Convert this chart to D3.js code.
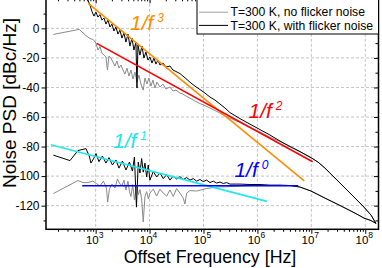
<!DOCTYPE html>
<html>
<head>
<meta charset="utf-8">
<script src="https://cdn.jsdelivr.net/npm/d3@7"></script>
<style>
  html, body { margin: 0; padding: 0; background: #fff; }
  svg { display: block; font-family: "Liberation Sans", Arial, sans-serif; }
</style>
</head>
<body>
<div id="chart"></div>
<script>
// offset frequency [Hz] / PSD [dBc/Hz]
// upper curves (1/f^3 -> 1/f^2 region)
const fUpperBlack = [496, 661, 729, 784, 854, 930, 1013, 1103, 1202, 1309, 1425, 1552, 1691, 1842, 2006, 2185, 2380, 2592, 2823, 3074, 3348, 3647, 3972, 4326, 4712, 5132, 5589, 5834, 6088, 6630, 7222, 7866, 8567, 9333, 10160, 11070, 12060, 13130, 14300, 15580, 17710, 20130, 23880, 27140, 30860, 36590, 41590, 47290, 56090, 69430, 86000, 106400, 131800, 163100, 202000, 250000, 309500, 474600, 727200, 1.115e6, 1.708e6, 2.618e6]
const psdUpperBlack = [27.3, 21.2, 18.5, 15.8, 11.4, 8.3, 11.0, 7.6, 9.3, 5.6, 7.0, 2.9, 5.6, 0.9, 2.9, -1.8, 0.9, -3.9, -1.2, -6.6, -3.2, -9.3, -3.9, -12.0, -6.6, -14.7, -9.3, -40.4, -11.3, -18.1, -12.0, -20.1, -16.0, -21.5, -19.4, -23.5, -20.1, -24.2, -21.5, -24.8, -23.5, -26.2, -25.5, -28.2, -29.2, -30.6, -32.3, -34.0, -36.4, -39.1, -41.4, -43.8, -46.5, -48.5, -51.2, -53.9, -57.0, -61.1, -64.8, -68.5, -72.2, -76.3]
const fUpperGray = [164, 496, 661, 784, 903, 1013, 1103, 1202, 1309, 1425, 1552, 1655, 1765, 1922, 2094, 2280, 2483, 2705, 2946, 3209, 3494, 3806, 4146, 4515, 4918, 5356, 5834, 6353, 6919, 7635, 8209, 8940, 9739, 10600, 11550, 12580, 13700, 15580, 17710, 20130, 23880, 27140, 30860, 36590, 41590, 47290, 56090, 69430, 86000, 106400, 131800, 163100, 202000, 250000, 309500, 474600, 727200, 1.115e6, 1.708e6, 2.618e6]
const psdUpperGray = [-4.1, -0.7, -4.9, -6.9, -7.6, -10.0, -14.7, -12.3, -16.7, -18.1, -19.4, -28.2, -18.8, -20.1, -22.8, -25.5, -22.1, -26.9, -24.8, -28.2, -30.9, -26.9, -32.3, -28.2, -34.3, -29.6, -36.4, -31.6, -37.7, -41.8, -33.6, -37.7, -33.6, -39.1, -35.0, -40.4, -36.4, -39.7, -37.7, -41.1, -39.7, -42.4, -41.8, -43.8, -44.5, -45.8, -47.2, -49.2, -50.9, -52.3, -53.9, -55.6, -57.3, -59.4, -60.7, -63.8, -67.1, -70.2, -73.6, -76.6]
// lower curves (1/f -> white floor)
const fLowerBlack = [164, 334, 470, 661, 761, 818, 930, 1013, 1151, 1337, 1552, 1765, 2049, 2380, 2705, 3141, 3647, 4236, 4814, 5243, 5710, 6166, 6630, 7130, 7635, 8209, 8828, 9452, 10160, 11700, 13530, 15580, 17940, 20740, 23880, 27500, 31780, 36590, 42130, 48730, 56090, 64590, 74680, 86000, 98970, 114400, 131800, 151700, 175400, 202000, 232500, 268800, 309500, 474600, 727200, 1.115e6, 1.708e6, 2.618e6]
const psdLowerBlack = [-85.8, -89.5, -82.7, -81.4, -86.4, -91.2, -87.8, -84.7, -90.2, -86.4, -91.2, -87.5, -92.5, -89.1, -94.6, -89.8, -95.9, -90.5, -96.6, -87.1, -121.0, -90.5, -97.9, -88.1, -97.3, -91.2, -100.6, -92.5, -102.7, -96.9, -100.6, -97.9, -101.7, -99.0, -102.7, -100.0, -102.0, -100.3, -102.3, -101.0, -102.7, -101.7, -103.4, -102.3, -103.7, -102.7, -104.4, -103.4, -104.7, -104.0, -105.0, -104.4, -105.4, -105.4, -105.7, -105.7, -106.1, -106.1]
const fLowerGray = [164, 470, 582, 720, 891, 1035, 1202, 1395, 1586, 1670, 1803, 2006, 2280, 2537, 2764, 3074, 3348, 3647, 3972, 4236, 4515, 4856, 5243, 5759, 6219, 6630, 7130, 7635, 8209, 8828, 9533, 10160, 11700, 13530, 15580, 17940, 20740, 23880, 27500, 31780, 36590, 42130, 45320, 48730, 56090, 74680, 114400, 175400, 309500, 474600, 727200, 1.115e6, 1.708e6, 2.618e6]
const psdLowerGray = [-111.8, -103.0, -104.4, -104.4, -103.4, -105.0, -106.7, -103.4, -108.1, -117.6, -108.8, -105.4, -108.1, -102.0, -104.7, -106.7, -102.7, -109.4, -103.4, -110.5, -113.8, -105.7, -116.2, -106.4, -112.5, -109.1, -115.5, -131.1, -113.8, -110.5, -115.5, -111.5, -108.8, -113.5, -108.8, -111.5, -113.5, -109.4, -113.8, -108.4, -111.5, -114.9, -118.9, -111.5, -109.8, -110.1, -108.4, -107.4, -107.1, -106.7, -106.4, -106.4, -106.4, -106.4]
// high-frequency roll-off, where both temperatures coincide
const fTail = [4.19e6, 6.15e6, 9.84e6, 1.33e7, 1.79e7, 2.41e7, 3.40e7, 4.78e7, 6.72e7, 9.46e7, 1.28e8, 1.58e8]
const psdUpperTail = [-80.3, -83.4, -87.5, -90.5, -94.6, -99.3, -104.7, -110.1, -115.5, -121.0, -126.4, -132.0]
const psdLowerTail = [-106.4, -107.4, -110.1, -112.5, -114.9, -117.2, -119.9, -122.6, -125.4, -128.4, -130.1, -132.0]

// asymptotes: 1/f^n, start/end points and label anchor
const fitPower = ['3', '2', '1', '0']
const fitF = [[729, 7.39e6], [1043, 1.058e7], [148, 1.50e6], [564, 5.72e6]]
const fitPsd = [[16.9, -103.2], [-10.2, -90.3], [-78.8, -117.1], [-106.5, -106.5]]
const fitLabelF = [4330, 6.82e5, 2094, 3.75e5]
const fitLabelPsd = [-1.15, -60.9, -80.7, -100.4]

const legendLabels = ['T=300 K, no flicker noise', 'T=300 K, with flicker noise']
const xMajor = [1e3, 1e4, 1e5, 1e6, 1e7, 1e8]
const yMajor = [-120, -100, -80, -60, -40, -20, 0]

const fitColors = ['#ff8c00', '#ff0000', '#20e6f0', '#0000ff']
const grayColor = '#8a8a8a'

const width = 382, height = 268
const mLeft = 46, mRight = 378.5, mTop = -1.2, mBottom = 229.3

const x = d3.scaleLog().domain([120, 1.76e8]).range([mLeft, mRight])
const y = d3.scaleLinear().domain([-136, 20]).range([mBottom, mTop])

const svg = d3.select('#chart').append('svg').attr('width', width).attr('height', height)
svg.append('rect').attr('width', width).attr('height', height).attr('fill', '#fff')

svg.append('defs').append('clipPath').attr('id', 'plot')
  .append('rect').attr('x', mLeft).attr('y', mTop).attr('width', mRight - mLeft).attr('height', mBottom - mTop)

// minor ticks
const xMinor = []
for (let e = 2; e <= 8; e++) for (let k = 2; k <= 9; k++) {
  const v = k * Math.pow(10, e)
  if (v > 120 && v < 1.76e8) xMinor.push(v)
}
const yMinor = d3.range(-130, 20, 20)

// grid
const grid = svg.append('g').attr('stroke', '#c4c4c4').attr('stroke-width', 1).attr('stroke-dasharray', '3,2')
grid.selectAll('.gx').data(xMajor).join('line')
  .attr('x1', d => x(d)).attr('x2', d => x(d)).attr('y1', mTop).attr('y2', mBottom)
grid.selectAll('.gy').data(yMajor).join('line')
  .attr('y1', d => y(d)).attr('y2', d => y(d)).attr('x1', mLeft).attr('x2', mRight)

const line = d3.line().x(d => x(d[0])).y(d => y(d[1]))
const curves = svg.append('g').attr('clip-path', 'url(#plot)').attr('fill', 'none')

const series = [
  [fUpperGray.concat(fTail), psdUpperGray.concat(psdUpperTail), grayColor],
  [fLowerGray.concat(fTail), psdLowerGray.concat(psdLowerTail), grayColor],
  [fUpperBlack.concat(fTail), psdUpperBlack.concat(psdUpperTail), '#000'],
  [fLowerBlack.concat(fTail), psdLowerBlack.concat(psdLowerTail), '#000']
]
series.forEach(s => {
  curves.append('path').attr('d', line(d3.zip(s[0], s[1])))
    .attr('stroke', s[2]).attr('stroke-width', 1).attr('stroke-linejoin', 'round')
})

// fitted slopes
fitPower.forEach((p, i) => {
  curves.append('path').attr('d', line(d3.zip(fitF[i], fitPsd[i])))
    .attr('stroke', fitColors[i]).attr('stroke-width', 1.6)
  const t = svg.append('text')
    .attr('x', x(fitLabelF[i])).attr('y', y(fitLabelPsd[i]))
    .attr('fill', fitColors[i]).attr('font-size', 21).attr('font-style', 'italic')
    .text('1/f')
  t.append('tspan').attr('dx', 4).attr('dy', -8).attr('font-size', 12).text(p)
})

// axes
const axes = svg.append('g')
function styleAxis(g) {
  g.select('.domain').remove()
  g.selectAll('.tick line').attr('stroke', '#000').attr('stroke-width', 1)
}
axes.append('g').attr('transform', `translate(0,${mBottom})`)
  .call(d3.axisBottom(x).tickValues(xMajor).tickSize(4.5).tickFormat(''))
  .call(styleAxis)
axes.append('g').attr('transform', `translate(0,${mBottom})`)
  .call(d3.axisBottom(x).tickValues(xMinor).tickSize(2.5).tickFormat(''))
  .call(styleAxis)
axes.append('g').attr('transform', `translate(0,${mTop})`)
  .call(d3.axisTop(x).tickValues(xMajor).tickSize(-4.5).tickFormat(''))
  .call(styleAxis)
axes.append('g').attr('transform', `translate(0,${mTop})`)
  .call(d3.axisTop(x).tickValues(xMinor).tickSize(-2.5).tickFormat(''))
  .call(styleAxis)
axes.append('g').attr('transform', `translate(${mLeft},0)`)
  .call(d3.axisLeft(y).tickValues(yMajor).tickSize(4.5).tickPadding(2).tickFormat(d => String(d)))
  .call(styleAxis)
  .call(g => g.selectAll('.tick text').attr('fill', '#000').attr('font-size', 12)
    .attr('font-family', '"Liberation Sans", Arial, sans-serif'))
axes.append('g').attr('transform', `translate(${mLeft},0)`)
  .call(d3.axisLeft(y).tickValues(yMinor).tickSize(2.5).tickFormat(''))
  .call(styleAxis)
axes.append('g').attr('transform', `translate(${mRight},0)`)
  .call(d3.axisRight(y).tickValues(yMajor).tickSize(-4.5).tickFormat(''))
  .call(styleAxis)
axes.append('g').attr('transform', `translate(${mRight},0)`)
  .call(d3.axisRight(y).tickValues(yMinor).tickSize(-3).tickFormat(''))
  .call(styleAxis)

// decade labels 10^n
xMajor.forEach(v => {
  const t = axes.append('text').attr('x', x(v) - 1).attr('y', mBottom + 14.5)
    .attr('text-anchor', 'middle').attr('font-size', 11.5).attr('fill', '#000').text('10')
  t.append('tspan').attr('dy', -5.5).attr('font-size', 8.5).text(Math.round(Math.log10(v)))
})

axes.append('rect').attr('x', mLeft).attr('y', mTop).attr('width', mRight - mLeft).attr('height', mBottom - mTop)
  .attr('fill', 'none').attr('stroke', '#000').attr('stroke-width', 1.5)

svg.append('text').attr('x', 210).attr('y', 263).attr('text-anchor', 'middle')
  .attr('font-size', 17.8).text('Offset Frequency [Hz]')
svg.append('text').attr('transform', 'translate(15.8,103) rotate(-90)').attr('text-anchor', 'middle')
  .attr('font-size', 19).text('Noise PSD [dBc/Hz]')

// legend
const legend = svg.append('g')
legend.append('rect').attr('x', 197).attr('y', -2).attr('width', mRight - 197).attr('height', 36)
  .attr('fill', '#fff').attr('stroke', '#000').attr('stroke-width', 1)
legendLabels.forEach((label, i) => {
  const ly = 12.2 + i * 13.2
  legend.append('line').attr('x1', 199).attr('x2', 228).attr('y1', ly).attr('y2', ly)
    .attr('stroke', i === 0 ? '#a0a0a0' : '#000').attr('stroke-width', 1)
  legend.append('text').attr('x', 230.5).attr('y', ly + 4.2).attr('font-size', 12.2).text(label)
})
</script>
</body>
</html>
